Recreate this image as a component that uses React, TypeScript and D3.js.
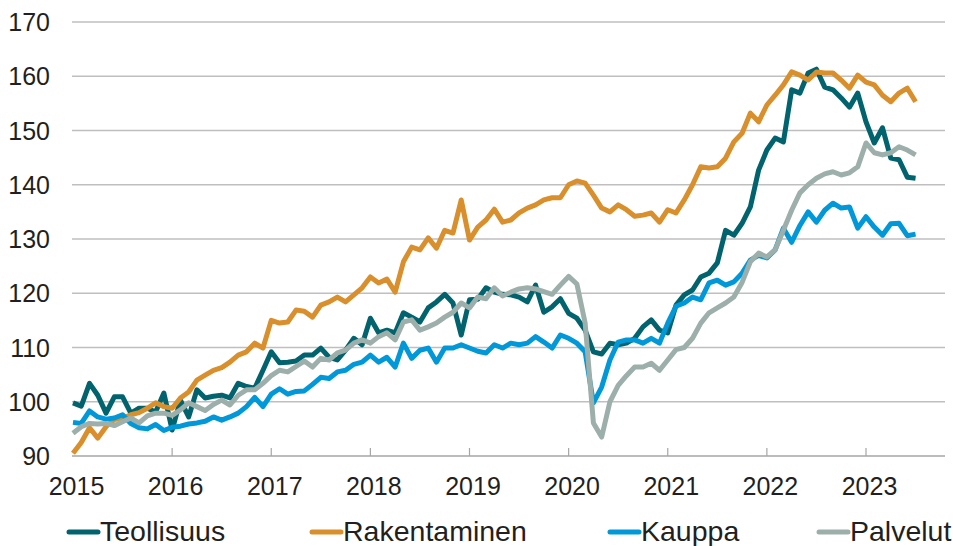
import { useRef, useEffect } from 'react';
import * as d3 from 'd3';

// monthly index values, Jan 2015 .. Jul 2023
const years = ['2015', '2016', '2017', '2018', '2019', '2020', '2021', '2022', '2023'];
const yTicks = [90, 100, 110, 120, 130, 140, 150, 160, 170];

const teollisuus = [
  99.8, 99.2, 103.4, 101.2, 97.9, 100.9, 100.9, 97.9, 98.8, 98.8, 98.1, 101.6,
  94.8, 100.3, 97.2, 102.2, 100.7, 101, 101.2, 100.7, 103.4, 102.8, 102.5, 105.8,
  109.2, 107.2, 107.3, 107.5, 108.6, 108.6, 109.9, 108.2, 107.7, 109.5, 111.7, 110.5,
  115.4, 112.7, 113.2, 112.7, 116.4, 115.6, 114.7, 117.3, 118.4, 119.8, 118.2, 112.3,
  118.8, 118.9, 121, 120.2, 119.8, 119.7, 119.3, 118.4, 121.5, 116.5, 117.5, 119,
  116.3, 115.4, 113.2, 109.2, 108.8, 110.8, 110.5, 110.8, 111.7, 113.8, 115.1, 113.2,
  112.7, 117.8, 119.7, 120.6, 123, 123.7, 125.6, 131.6, 130.7, 132.9, 135.9, 142.7,
  146.4, 148.6, 147.9, 157.5, 156.9, 160.6, 161.3, 158, 157.5, 156, 154.3, 156.9,
  151.6, 147.7, 150.5, 144.9, 144.6, 141.4, 141.2,
];

const rakentaminen = [
  90.5, 92.5, 95.2, 93.3, 95.4, 96.7, 97, 97.6, 98, 98.8, 99.8, 99.1,
  98.8, 100.7, 101.8, 104, 104.9, 105.8, 106.3, 107.3, 108.6, 109.2, 110.8, 109.9,
  115, 114.5, 114.7, 116.9, 116.7, 115.6, 117.8, 118.4, 119.3, 118.4, 119.7, 121,
  123, 121.9, 122.6, 120.2, 125.8, 128.5, 128, 130.2, 128.3, 131.6, 131.1, 137.2,
  129.8, 132.2, 133.5, 135.5, 133.1, 133.5, 134.8, 135.7, 136.3, 137.2, 137.6, 137.6,
  140, 140.7, 140.3, 138.1, 135.7, 135, 136.3, 135.4, 134.2, 134.4, 134.8, 133.1,
  135.4, 134.8, 137.2, 140, 143.3, 143.1, 143.3, 144.9, 147.9, 149.5, 153.2, 151.6,
  154.7, 156.5, 158.4, 160.8, 160.2, 159.3, 160.8, 160.6, 160.6, 159.3, 157.8, 160.2,
  158.9, 158.4, 156.5, 155.3, 156.9, 157.8, 155.3,
];

const kauppa = [
  96.2, 96, 98.3, 97.2, 96.8, 97, 97.6, 96, 95.2, 95, 95.8, 94.7,
  95.3, 95.5, 95.9, 96.1, 96.4, 97.2, 96.6, 97.2, 97.9, 99.1, 100.8, 99.1,
  101.4, 102.4, 101.4, 101.9, 102, 103.2, 104.5, 104.3, 105.5, 105.8, 106.9, 107.3,
  108.6, 107.3, 108.2, 106.4, 110.8, 108, 109.5, 109.9, 107.3, 109.9, 109.9, 110.5,
  109.9, 109.3, 109, 110.5, 109.9, 110.8, 110.5, 110.8, 112, 111, 109.9, 112.3,
  111.7, 110.8, 109.2, 99.8, 102.7, 107.7, 111, 111.4, 111.4, 110.8, 111.7, 110.8,
  114.5, 117.6, 118.2, 119.3, 118.8, 121.9, 122.4, 121.5, 122.1, 123.7, 126.1, 127,
  126.5, 128, 132, 129.4, 132.5, 135, 133.1, 135.3, 136.6, 135.7, 135.9, 132,
  134.1, 132.2, 130.7, 132.8, 132.9, 130.6, 130.9,
];

const palvelut = [
  94.2, 95.4, 96, 95.9, 96, 95.6, 96.3, 97, 96.1, 97.4, 97.9, 97.9,
  97.5, 98.5, 99.8, 99.1, 98.4, 99.5, 100.3, 99.4, 101.2, 102.2, 102.2, 103.4,
  104.8, 105.8, 105.5, 106.5, 107.5, 106.4, 108, 107.7, 109, 109.5, 110.8, 111.4,
  110.8, 112, 112.7, 111.4, 114.7, 115.1, 113.2, 113.8, 114.5, 115.6, 116.5, 118.2,
  117.3, 119.3, 119, 121, 119.5, 120.2, 120.8, 121, 120.8, 120.3, 119.8, 121.5,
  123.1, 121.7, 114.5, 96.1, 93.5, 100, 103, 104.8, 106.4, 106.4, 107.1, 105.8,
  107.7, 109.6, 110, 111.7, 114.5, 116.4, 117.3, 118.2, 119.3, 122, 125.8, 127.4,
  126.7, 128, 131.6, 135.3, 138.5, 140, 141.2, 142, 142.4, 141.8, 142.2, 143.3,
  147.7, 145.9, 145.5, 145.9, 147, 146.4, 145.5,
];

const series = [
  { name: 'Teollisuus', values: teollisuus, color: '#00636d' },
  { name: 'Rakentaminen', values: rakentaminen, color: '#d98f2b' },
  { name: 'Kauppa', values: kauppa, color: '#0098d8' },
  { name: 'Palvelut', values: palvelut, color: '#9dafaa' },
];

const legendX = [67, 310, 608, 817];

function LineChart() {
  const ref = useRef<SVGSVGElement>(null);

  useEffect(() => {
    d3.select(ref.current).selectAll('*').remove();
    const svg = d3.select(ref.current);
    const font = '"Liberation Sans", Arial, sans-serif';

    const left = 72;
    const right = 945;
    const x = d3.scaleLinear().domain([0, 96]).range([73, 866]);
    const y = d3.scaleLinear().domain([90, 170]).range([456, 22]);

    // grid
    svg.append('g')
      .selectAll('line')
      .data(yTicks.slice(1))
      .enter().append('line')
      .attr('x1', left).attr('x2', right)
      .attr('y1', d => y(d)).attr('y2', d => y(d))
      .style('stroke', '#bfbfbf')
      .style('stroke-width', 1.5);

    svg.append('g')
      .selectAll('text')
      .data(yTicks)
      .enter().append('text')
      .attr('x', 50)
      .attr('y', d => y(d))
      .attr('dy', '0.36em')
      .attr('text-anchor', 'end')
      .style('font-family', font)
      .style('font-size', '25px')
      .style('fill', '#231f20')
      .text(d => d);

    // x axis
    svg.append('line')
      .attr('x1', left).attr('x2', right)
      .attr('y1', y(90)).attr('y2', y(90))
      .style('stroke', '#a6a6a6')
      .style('stroke-width', 1.5);

    svg.append('g')
      .selectAll('line')
      .data(years.slice(1))
      .enter().append('line')
      .attr('x1', (d, i) => x((i + 1) * 12)).attr('x2', (d, i) => x((i + 1) * 12))
      .attr('y1', y(90)).attr('y2', y(90) - 8)
      .style('stroke', '#a6a6a6')
      .style('stroke-width', 1.2);

    svg.append('g')
      .selectAll('text')
      .data(years)
      .enter().append('text')
      .attr('x', (d, i) => x(i * 12) + 3.5)
      .attr('y', 495)
      .attr('text-anchor', 'middle')
      .style('font-family', font)
      .style('font-size', '25px')
      .style('fill', '#231f20')
      .text(d => d);

    const line = d3.line<number>()
      .x((d, i) => x(i))
      .y(d => y(d));

    svg.append('g')
      .selectAll('path')
      .data(series)
      .enter().append('path')
      .attr('d', d => line(d.values))
      .style('fill', 'none')
      .style('stroke', d => d.color)
      .style('stroke-width', 5)
      .style('stroke-linejoin', 'round');

    // legend
    const lg = svg.append('g')
      .selectAll('g')
      .data(series)
      .enter().append('g')
      .attr('transform', (d, i) => `translate(${legendX[i]},532)`);

    lg.append('line')
      .attr('x1', 2).attr('x2', 31)
      .attr('y1', 0).attr('y2', 0)
      .style('stroke', d => d.color)
      .style('stroke-width', 5)
      .style('stroke-linecap', 'round');

    lg.append('text')
      .attr('x', 33)
      .attr('y', 9)
      .style('font-family', font)
      .style('font-size', '28.5px')
      .style('fill', '#231f20')
      .text(d => d.name);
  }, []);

  return <svg ref={ref} width={953} height={546} style={{ position: 'absolute', left: 0, top: 0, background: '#fff' }} />;
}

export default function App() {
  return <LineChart />;
}
